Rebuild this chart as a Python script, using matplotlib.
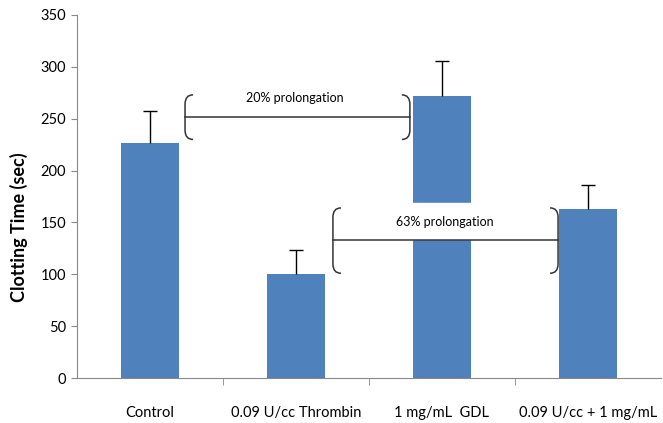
import matplotlib.pyplot as plt
import numpy as np
from matplotlib.path import Path
from matplotlib.patches import PathPatch

groups = ["Control", "0.09 U/cc Thrombin", "1 mg/mL  GDL", "0.09 U/cc + 1 mg/mL"]
clot_time = [227, 100, 272, 163]
err_up = [30, 23, 34, 23]

BLUE = "#4F81BD"

plt.rcParams["font.family"] = ["Lato", "DejaVu Sans"]


def bracket(ax, x, y_top, y_bot, side, w=0.055, h=9):
    # curly "(" / ")" shape drawn in data coords
    d = 1 if side == "left" else -1
    verts = [
        (x + d * w, y_top), (x, y_top), (x, y_top - h),
        (x, y_bot + h), (x, y_bot), (x + d * w, y_bot),
    ]
    codes = [Path.MOVETO, Path.CURVE3, Path.CURVE3,
             Path.LINETO, Path.CURVE3, Path.CURVE3]
    ax.add_patch(PathPatch(Path(verts, codes), fill=False, ec="#333333", lw=1.1, zorder=4))


fig = plt.figure(figsize=(6.63, 4.23), dpi=100)
ax = fig.add_axes([77 / 663, 1 - 378 / 423, 584 / 663, 363 / 423])

x = np.arange(len(groups))
ax.bar(x, clot_time, width=0.4, color=BLUE, zorder=2)
eb = ax.errorbar(x, clot_time, yerr=[np.zeros(len(x)), err_up], fmt="none",
                 ecolor="black", elinewidth=1, capsize=5, capthick=1, zorder=3)
eb[1][0].set_visible(False)

ax.set_xlim(-0.5, 3.5)
ax.set_ylim(0, 350)
ax.set_yticks(range(0, 351, 50))
ax.set_xticks(x)
ax.set_xticklabels(groups)
ax.set_xticks([0.5, 1.5, 2.5], minor=True)
ax.tick_params(axis="x", which="major", length=0, pad=20, labelsize=10.5)
ax.tick_params(axis="x", which="minor", length=5, color="#888888")
ax.tick_params(axis="y", length=4, color="#888888", labelsize=10.5, pad=4)
for s in ["top", "right"]:
    ax.spines[s].set_visible(False)
for s in ["left", "bottom"]:
    ax.spines[s].set_color("#888888")
ax.set_ylabel("Clotting Time (sec)", fontweight="bold", fontsize=13, va="center")
ax.yaxis.set_label_coords(-0.099, 0.416)

# 20% prolongation: Control -> GDL
bracket(ax, 0.24, 273, 230, "left")
bracket(ax, 1.78, 273, 230, "right")
ax.plot([0.24, 1.78], [252, 252], color="#333333", lw=1.1, zorder=4)
ax.text(0.99, 270, "20% prolongation", ha="center", va="center", fontsize=9, zorder=5)

# 63% prolongation: Thrombin -> combined
bracket(ax, 1.253, 164, 101, "left")
bracket(ax, 2.795, 164, 101, "right")
ax.plot([1.253, 2.795], [133, 133], color="#333333", lw=1.1, zorder=4)
ax.fill_between([1.75, 2.25], 134, 169, color="white", zorder=3)
ax.text(2.02, 150, "63% prolongation", ha="center", va="center", fontsize=9, zorder=5)

fig.savefig("out.png", dpi=100)
